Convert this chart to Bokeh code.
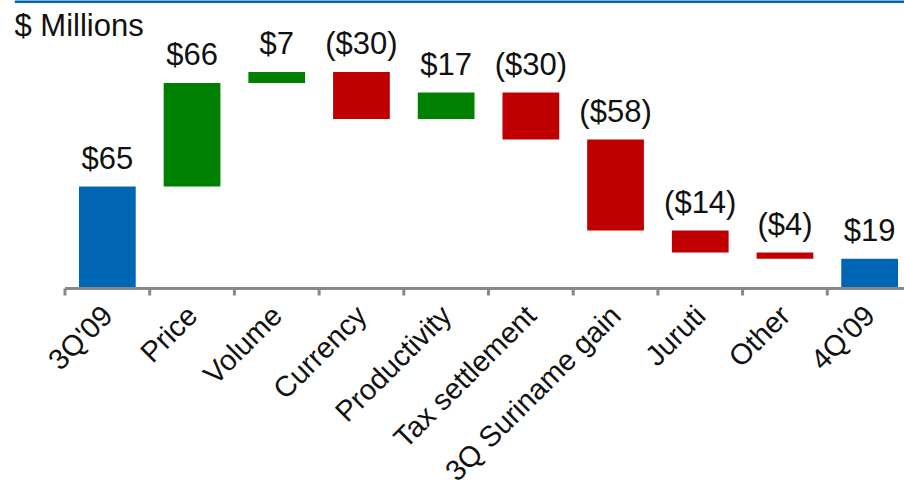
from math import pi

from bokeh.embed import file_html
from bokeh.models import ColumnDataSource, Label, Range1d, Span
from bokeh.plotting import figure
from bokeh.resources import INLINE

# Alumina bridge, 3Q'09 -> 4Q'09 ($ millions)
categories = ["3Q'09", "Price", "Volume", "Currency", "Productivity",
              "Tax settlement", "3Q Suriname gain", "Juruti", "Other", "4Q'09"]
changes = [65, 66, 7, -30, 17, -30, -58, -14, -4, 19]
kinds = ["total", "step", "step", "step", "step",
         "step", "step", "step", "step", "total"]

BLUE = "#0066B3"
GREEN = "#008000"
RED = "#C00000"
GREY = "#888888"
FONT = "Liberation Sans"

# Vertical scale: pixels per $1M, and room above/below the zero line
PX = 1.569
Y_TOP_PX = 288
Y_BOTTOM_PX = 490 - 288

# Waterfall geometry
bottoms, tops, colors, texts = [], [], [], []
running = 0
for kind, v in zip(kinds, changes):
    if kind == "total":
        lo, hi = 0, v
        running = v
        colors.append(BLUE)
    else:
        start = running
        running += v
        lo, hi = min(start, running), max(start, running)
        colors.append(GREEN if v >= 0 else RED)
    bottoms.append(lo)
    tops.append(hi)
    texts.append(f"${v}" if v >= 0 else f"(${-v})")

xs = list(range(len(categories)))
src = ColumnDataSource(dict(x=xs, bottom=bottoms, top=tops, color=colors,
                            text=texts, label_y=[t + 28 / PX for t in tops],
                            cat=categories, cat_y=[-22 / PX] * len(xs)))

frame_w = 904 - 14
units_per_px = 1 / 84.7
x_start = -0.5 - 50.5 * units_per_px
x_end = x_start + frame_w * units_per_px

p = figure(width=904, height=490, output_backend="svg", toolbar_location=None,
           x_range=Range1d(x_start, x_end),
           y_range=Range1d(-Y_BOTTOM_PX / PX, Y_TOP_PX / PX),
           min_border_left=14, min_border_right=0, min_border_top=0,
           min_border_bottom=0, outline_line_color=None)
p.axis.visible = False
p.grid.visible = False

p.vbar(x="x", bottom="bottom", top="top", width=0.67, fill_color="color",
       line_color=None, source=src)

# Value labels above each bar
p.text(x="x", y="label_y", text="text", source=src, text_align="center",
       text_baseline="alphabetic", text_font_size="31px", text_color="#111111",
       text_font={"value": FONT})

# Category axis: base line and boundary ticks
bounds = [i - 0.5 for i in range(len(categories) + 1)]
p.segment(x0=[-0.5], y0=[0], x1=[x_end], y1=[0], line_color=GREY, line_width=3)
p.segment(x0=bounds, y0=[0] * len(bounds), x1=bounds,
          y1=[-7 / PX] * len(bounds), line_color=GREY, line_width=3)

# Rotated category names
p.text(x="x", y="cat_y", text="cat", source=src, angle=pi / 4,
       text_align="right", text_baseline="middle", text_font_size="29px",
       text_color="#111111", text_font={"value": FONT})

# Rule across the top and the units caption
p.add_layout(Span(location=Y_TOP_PX / PX - 1 / PX, dimension="width",
                  line_color=BLUE, line_width=3))
p.add_layout(Label(x=0, y=490 - 25, x_units="screen", y_units="screen",
                   text="$ Millions", text_font=FONT, text_font_size="31px",
                   text_baseline="alphabetic", text_color="#111111"))

open("out.html", "w").write(file_html(p, INLINE))
